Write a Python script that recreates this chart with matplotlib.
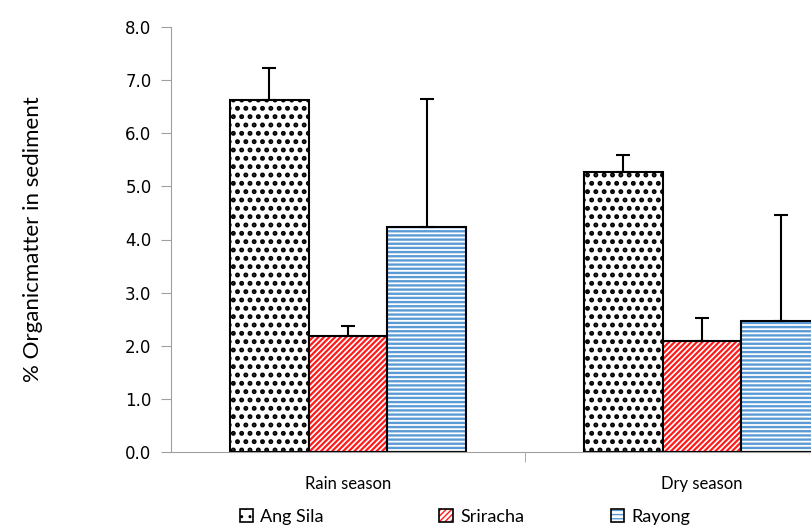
import matplotlib as mpl
import matplotlib.pyplot as plt
import numpy as np
from matplotlib.patches import Patch
from matplotlib.legend_handler import HandlerTuple

seasons = ['Rain season', 'Dry season']
sites = ['Ang Sila', 'Sriracha', 'Rayong']
means = {
    'Ang Sila': [6.63, 5.27],
    'Sriracha': [2.18, 2.09],
    'Rayong': [4.24, 2.47],
}
errors = {
    'Ang Sila': [0.60, 0.32],
    'Sriracha': [0.19, 0.43],
    'Rayong': [2.41, 1.99],
}

hatch_color = {'Ang Sila': 'black', 'Sriracha': '#ff1a1a', 'Rayong': '#5b9bd5'}
hatches = {'Ang Sila': '..', 'Sriracha': '//////', 'Rayong': '----'}
hatch_lw = {'Ang Sila': 2.3, 'Sriracha': 1.6, 'Rayong': 1.7}

plt.rcParams['font.family'] = ['Lato', 'DejaVu Sans']

fig = plt.figure(figsize=(8.12, 5.25), dpi=100)
ax = fig.add_axes([171 / 812, 73 / 525, 708 / 812, 425 / 525])

x = np.arange(len(seasons))
width = 0.223
for i, s in enumerate(sites):
    pos = x + (i - 1) * width
    with mpl.rc_context({'hatch.linewidth': hatch_lw[s]}):
        ax.bar(pos, means[s], width, color='white', edgecolor=hatch_color[s],
               hatch=hatches[s], linewidth=0)
    ax.bar(pos, means[s], width, color='none', edgecolor='black', linewidth=1.5)
    ax.errorbar(pos, means[s], yerr=[np.zeros(2), errors[s]], fmt='none',
                ecolor='black', elinewidth=1.5, capsize=5, capthick=1.5)

ax.set_xlim(-0.5, 1.5)
ax.set_ylim(0, 8)
ticks = np.arange(0, 8.1, 1)
ax.set_yticks(ticks)
ax.set_yticklabels([f'{v:.1f}' for v in ticks], fontsize=12,
                   family=['DejaVu Sans'])
ax.set_xticks(x)
ax.set_xticklabels(seasons, fontsize=12)
ax.set_xticks([0.5], minor=True)
ax.tick_params(axis='x', which='major', length=0, pad=17)
ax.tick_params(axis='x', which='minor', length=7, color='#a0a0a0')
ax.tick_params(axis='y', length=7, color='#a0a0a0', pad=7)
for side in ['top', 'right']:
    ax.spines[side].set_visible(False)
for side in ['left', 'bottom']:
    ax.spines[side].set_color('#a0a0a0')
ax.set_ylabel('% Organicmatter in sediment', fontsize=16, labelpad=59)

# one legend per site so each entry sits where the reference has it
legend_x = {'Ang Sila': 0.295, 'Sriracha': 0.541, 'Rayong': 0.752}
for s in sites:
    with mpl.rc_context({'hatch.linewidth': hatch_lw[s] * 0.6}):
        fill = Patch(facecolor='white', edgecolor=hatch_color[s], hatch=hatches[s],
                     linewidth=0)
    outline = Patch(facecolor='none', edgecolor='black', linewidth=1.2)
    fig.legend([(fill, outline)], [s], loc='center left',
               bbox_to_anchor=(legend_x[s], 0.015),
               handler_map={tuple: HandlerTuple(ndivide=1, pad=0)},
               frameon=False, fontsize=13, handlelength=0.75, handleheight=0.75,
               handletextpad=0.4, borderpad=0, borderaxespad=0)

fig.savefig('out.png', dpi=100)
